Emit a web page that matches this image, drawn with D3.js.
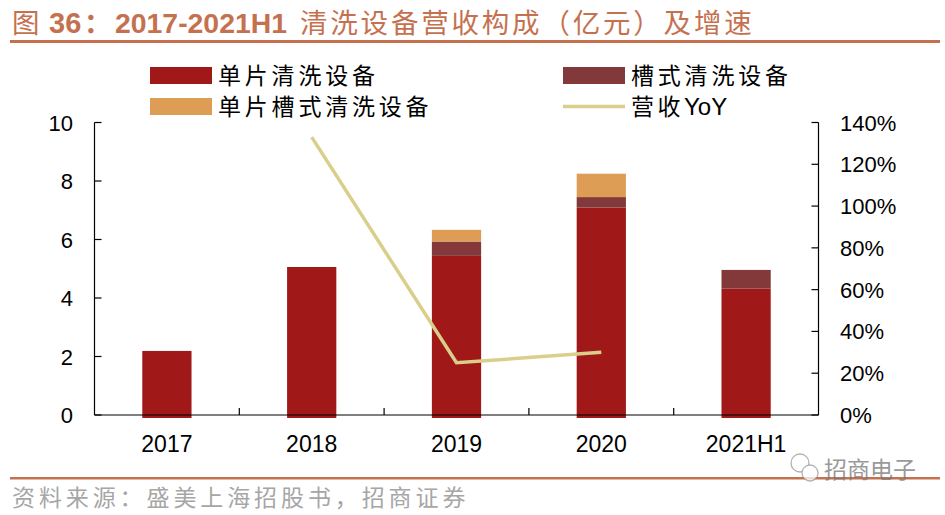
<!DOCTYPE html>
<html><head><meta charset="utf-8">
<script src="https://cdn.jsdelivr.net/npm/d3@7"></script>
<style>
html,body{margin:0;padding:0;background:#fff;}
svg{display:block;}
</style></head>
<body><svg id="c" width="945" height="515"></svg>
<script>
const categories = ["2017","2018","2019","2020","2021H1"];
const singleWafer = [2.19, 5.06, 5.44, 7.09, 4.32];
const tankType = [0, 0, 0.49, 0.36, 0.64];
const singleTank = [0, 0, 0.40, 0.80, 0];
const yoy = [null, 1.33, 0.25, 0.30, null];
const leftTicks = [0,2,4,6,8,10];
const rightTicks = [0,0.2,0.4,0.6,0.8,1.0,1.2,1.4];
const seriesNames = ["单片清洗设备","槽式清洗设备","单片槽式清洗设备","营收YoY"];
const colors = ["#A01818","#833939","#DE9D55","#D9CF8B"];
const sourceText = "资料来源：盛美上海招股书，招商证券";

const svg = d3.select("#c");
const accent = "#C5714F";
const numFont = "'Liberation Sans', Arial, sans-serif";
const cjkFont = "'Noto Sans CJK SC', 'Liberation Sans', sans-serif";

// Title
const ty = 32.5;
const tg = svg.append("g").attr("fill", accent);
tg.append("text").attr("x", 12).attr("y", ty).attr("font-size", 27.5).attr("font-family", cjkFont).text("图");
tg.append("text").attr("x", 49).attr("y", ty).attr("font-size", 29).attr("font-family", numFont).attr("font-weight", "bold").text("36");
tg.append("text").attr("x", 84).attr("y", ty).attr("font-size", 27.5).attr("font-family", cjkFont).attr("font-weight", "bold").text("：");
tg.append("text").attr("x", 115).attr("y", ty).attr("font-size", 28.5).attr("font-family", numFont).attr("font-weight", "bold")
  .attr("textLength", 172).attr("lengthAdjust", "spacingAndGlyphs").text("2017-2021H1");
tg.append("text").attr("x", 300).attr("y", ty).attr("font-size", 27.5).attr("font-family", cjkFont)
  .attr("letter-spacing", 2.8).text("清洗设备营收构成（亿元）及增速");
svg.append("rect").attr("x", 10).attr("y", 40).attr("width", 930).attr("height", 3).attr("fill", accent);

// Layout
const x0 = 94.5, x1 = 818.5, yTop = 122.5, yBot = 415;
const x = d3.scaleBand().domain(categories).range([x0, x1]).paddingInner(0.66).paddingOuter(0.33);
const xc = d3.scaleBand().domain(categories).range([x0, x1]);
const yL = d3.scaleLinear().domain([0,10]).range([yBot, yTop]);
const yR = d3.scaleLinear().domain([0,1.4]).range([yBot, yTop]);

const rows = categories.map((c,i)=>({cat:c, a:singleWafer[i], b:tankType[i], c2:singleTank[i]}));
const stack = d3.stack().keys(["a","b","c2"])(rows);

const g = svg.append("g");
stack.forEach((s, si) => {
  g.selectAll(null).data(s).enter().append("rect")
    .attr("x", d => x(d.data.cat))
    .attr("width", x.bandwidth())
    .attr("y", d => yL(d[1]))
    .attr("height", d => Math.max(0, yL(d[0]) - yL(d[1]) + (si===0 ? 3 : 0)))
    .attr("fill", colors[si]);
});

// Axes
const axG = svg.append("g").attr("font-family", numFont).attr("font-size", 22).attr("fill", "#000");
axG.append("line").attr("x1", x0).attr("x2", x0).attr("y1", yTop).attr("y2", yBot).attr("stroke", "#000").attr("stroke-width", 1.2);
axG.append("line").attr("x1", x1).attr("x2", x1).attr("y1", yTop).attr("y2", yBot).attr("stroke", "#000").attr("stroke-width", 1.2);
axG.append("line").attr("x1", x0).attr("x2", x1).attr("y1", yBot).attr("y2", yBot).attr("stroke", "#000").attr("stroke-width", 1.2);
leftTicks.forEach(v => {
  axG.append("line").attr("x1", x0).attr("x2", x0+7).attr("y1", yL(v)).attr("y2", yL(v)).attr("stroke", "#000").attr("stroke-width", 1.2);
  axG.append("text").attr("x", 73).attr("y", yL(v)+8).attr("text-anchor", "end").text(d3.format("d")(v));
});
rightTicks.forEach(v => {
  axG.append("line").attr("x1", x1-7).attr("x2", x1).attr("y1", yR(v)).attr("y2", yR(v)).attr("stroke", "#000").attr("stroke-width", 1.2);
  axG.append("text").attr("x", 840).attr("y", yR(v)+8).attr("text-anchor", "start").text(d3.format(".0%")(v));
});
categories.forEach((c,i) => {
  if (i > 0) axG.append("line").attr("x1", xc(c)).attr("x2", xc(c)).attr("y1", yBot).attr("y2", yBot-7).attr("stroke", "#000").attr("stroke-width", 1.2);
  axG.append("text").attr("x", xc(c) + xc.bandwidth()/2).attr("y", 452).attr("font-size", 23).attr("text-anchor", "middle").text(c);
});

// YoY line
const line = d3.line().defined(d => d.v != null)
  .x(d => xc(d.c) + xc.bandwidth()/2).y(d => yR(d.v));
svg.append("path").datum(categories.map((c,i)=>({c, v:yoy[i]})))
  .attr("d", line).attr("fill", "none").attr("stroke", colors[3]).attr("stroke-width", 3.5);

// Legend
const leg = svg.append("g").attr("font-family", cjkFont).attr("font-size", 23).attr("fill", "#000");
const legPos = [[150, 67], [563, 67], [150, 98], [563, 98]];
[0,1,2,3].forEach((si, k) => {
  const [lx, ly] = legPos[k];
  if (si < 3) {
    leg.append("rect").attr("x", lx).attr("y", ly).attr("width", 62).attr("height", 17).attr("fill", colors[si]);
  } else {
    leg.append("line").attr("x1", lx).attr("x2", lx+62).attr("y1", ly+8.5).attr("y2", ly+8.5).attr("stroke", colors[3]).attr("stroke-width", 3.5);
  }
  const tx = leg.append("text").attr("x", lx + 68).attr("y", ly + 17);
  if (si === 3) {
    tx.append("tspan").attr("letter-spacing", 3.5).text("营收");
    tx.append("tspan").attr("font-family", numFont).attr("font-size", 24).text("YoY");
  } else {
    tx.attr("letter-spacing", 3.8).text(seriesNames[si]);
  }
});

// Bottom
svg.append("rect").attr("x", 10).attr("y", 477).attr("width", 930).attr("height", 2.5).attr("fill", accent);
svg.append("text").attr("x", 12).attr("y", 506).attr("font-family", cjkFont).attr("font-size", 23)
  .attr("fill", "#A6A6A6").attr("letter-spacing", 3.9).text(sourceText);
// watermark
const wm = svg.append("g").attr("opacity", 0.75);
wm.append("circle").attr("cx", 800).attr("cy", 463).attr("r", 9).attr("fill", "none").attr("stroke", "#999").attr("stroke-width", 1.3);
wm.append("circle").attr("cx", 810).attr("cy", 473).attr("r", 8).attr("fill", "#fff").attr("stroke", "#999").attr("stroke-width", 1.3);
wm.append("text").attr("x", 824).attr("y", 478).attr("font-family", cjkFont).attr("font-size", 23).attr("fill", "#777").text("招商电子");
</script>
</body></html>
